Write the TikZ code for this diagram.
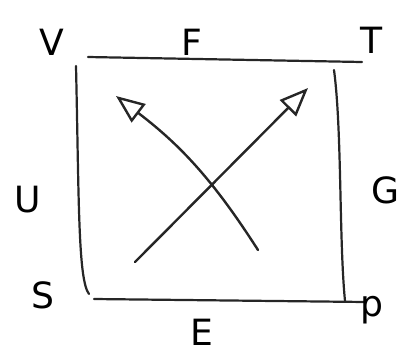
\documentclass[tikz,border=0pt]{standalone}
\usepackage{fontspec}
\setsansfont{DejaVu Sans}
\usetikzlibrary{arrows.meta}
\tikzset{
  side/.style={draw=black!85, line width=2.2pt, line cap=round},
  lbl/.style={font=\sffamily\fontsize{36}{40}\selectfont, inner sep=0pt},
  move/.style={draw=black!85, line width=2.4pt, line cap=round,
    -{Triangle[open, length=1.0cm, width=0.8cm, line width=2.4pt]}}
}
\begin{document}
\begin{tikzpicture}[x=0.035cm, y=-0.035cm]
  \useasboundingbox (0,0) rectangle (415,354);
  % corners
  \coordinate (tl) at (88,57);
  \coordinate (tr) at (362,62);
  \coordinate (bl) at (94,299);
  \coordinate (br) at (366,302);
  \coordinate (lt) at (76,66);
  \coordinate (lb) at (89,294);
  \coordinate (rt) at (334,70);
  \coordinate (rb) at (345,301);
  % sides
  \draw[side] (tl) -- (tr);
  \draw[side] (bl) -- (br);
  \draw[side] (lt) .. controls (79,200) and (78,280) .. (lb);
  \draw[side] (rt) .. controls (342,130) and (339,240) .. (rb);
  % labels
  \node[lbl] (V) at (52,42) {V};
  \node[lbl] (F) at (192,42) {F};
  \node[lbl] (T) at (372,40) {T};
  \node[lbl] (U) at (28,200) {U};
  \node[lbl] (G) at (385,190) {G};
  \node[lbl] (S) at (43,295) {S};
  \node[lbl] (E) at (202,332) {E};
  \node[lbl] (P) at (372,310) {p};
  % arrows
  \coordinate (a1) at (258,250);
  \coordinate (h1) at (116,96);
  \coordinate (a2) at (135,262);
  \coordinate (h2) at (308,88);
  \draw[move] (a1) to[bend right=10] (h1);
  \draw[move] (a2) -- (h2);
\end{tikzpicture}
\end{document}
